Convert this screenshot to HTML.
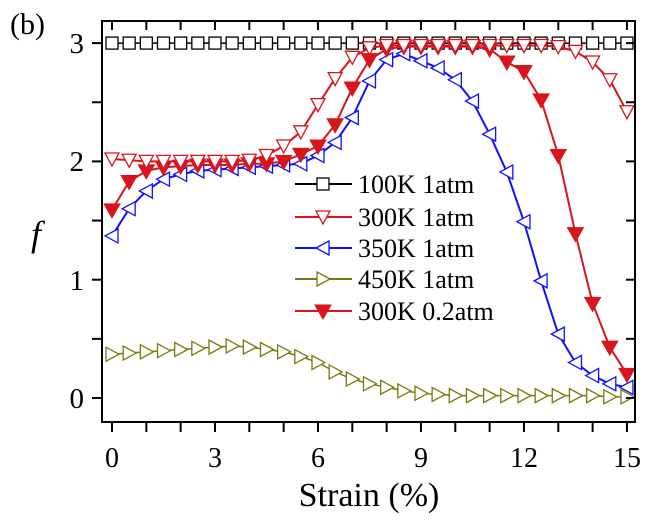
<!DOCTYPE html>
<html><head><meta charset="utf-8"><style>
html,body{margin:0;padding:0;background:#fff;}
svg, svg text{font-family:"Liberation Serif","Times New Roman","DejaVu Serif",serif;}
svg{display:block;}
</style></head><body>
<svg id="s" width="652" height="531" viewBox="0 0 652 531" xmlns="http://www.w3.org/2000/svg" font-family="Liberation Serif, serif">
<rect x="0" y="0" width="652" height="531" fill="#fff"/>
<text x="10" y="34" font-size="30">(b)</text>
<text x="36" y="246" font-size="36" font-style="italic" text-anchor="middle">f</text>
<g font-size="28" text-anchor="middle">
<text x="112" y="467">0</text><text x="215" y="467">3</text><text x="318" y="467">6</text>
<text x="421" y="467">9</text><text x="524" y="467">12</text><text x="627" y="467">15</text>
</g>
<g font-size="29" text-anchor="end">
<text x="84" y="408">0</text><text x="84" y="290">1</text><text x="84" y="171">2</text><text x="84" y="53">3</text>
</g>
<text x="369" y="506" font-size="34" text-anchor="middle">Strain (%)</text>
<g id="plot"></g>
<rect x="102" y="21" width="533" height="401" fill="none" stroke="#000" stroke-width="2"/>
<g id="ticks" stroke="#000" stroke-width="2"></g>
<g id="leg"></g>
</svg>
<script>
var NS="http://www.w3.org/2000/svg";
function X(s){return 112+34.33*s;}function Y(f){return 398-118.3*f;}
function el(p,t,a){var e=document.createElementNS(NS,t);for(var k in a)e.setAttribute(k,a[k]);p.appendChild(e);return e;}
var tk=document.getElementById('ticks');
for(var i=0;i<=15;i++){var x=X(i);el(tk,'line',{x1:x,x2:x,y1:422,y2:432});el(tk,'line',{x1:x,x2:x,y1:21,y2:30});}
for(var j=0;j<=6;j++){var y=Y(j*0.5);el(tk,'line',{x1:92,x2:102,y1:y,y2:y});el(tk,'line',{x1:626,x2:635,y1:y,y2:y});}
var d100=[],d300=[2.02,2.01,2.0,2.0,2.0,2.0,2.0,2.0,2.01,2.05,2.13,2.25,2.48,2.7,2.88,2.96,2.98,2.98,2.98,2.98,2.98,2.98,2.98,2.98,2.98,2.98,2.97,2.93,2.84,2.69,2.42];
for(var i=0;i<31;i++)d100.push(3);
var d02=[1.59,1.83,1.92,1.95,1.96,1.97,1.97,1.97,1.98,1.98,2.0,2.06,2.13,2.31,2.62,2.86,2.95,2.97,2.97,2.97,2.97,2.97,2.95,2.84,2.76,2.52,2.05,1.39,0.8,0.43,0.2];
var d350=[1.37,1.6,1.75,1.85,1.89,1.92,1.93,1.94,1.95,1.96,1.97,1.98,2.05,2.16,2.37,2.68,2.86,2.91,2.85,2.79,2.69,2.51,2.23,1.91,1.49,0.99,0.54,0.3,0.19,0.12,0.09];
var d450=[0.37,0.38,0.39,0.4,0.41,0.42,0.43,0.44,0.43,0.41,0.39,0.35,0.3,0.22,0.16,0.12,0.09,0.06,0.04,0.03,0.02,0.02,0.02,0.02,0.02,0.02,0.02,0.02,0.02,0.01,0.01];
var red="#d8141c",blue="#1010ff",olv="#7a7a10";
function marker(g,t,x,y,c){
 if(t=='sq')el(g,'rect',{x:x-6,y:y-6,width:12,height:12,fill:'#fff',stroke:c,'stroke-width':1.3});
 else if(t=='dn')el(g,'polygon',{points:(x-7)+','+(y-6)+' '+(x+7)+','+(y-6)+' '+x+','+(y+7),fill:'#fff',stroke:c,'stroke-width':1.3});
 else if(t=='dnf')el(g,'polygon',{points:(x-8)+','+(y-6)+' '+(x+8)+','+(y-6)+' '+x+','+(y+8),fill:c,stroke:c,'stroke-width':1});
 else if(t=='lt')el(g,'polygon',{points:(x-7)+','+y+' '+(x+6)+','+(y-7)+' '+(x+6)+','+(y+7),fill:'#fff',stroke:c,'stroke-width':1.3});
 else if(t=='rt')el(g,'polygon',{points:(x+7)+','+y+' '+(x-6)+','+(y-7)+' '+(x-6)+','+(y+7),fill:'#fff',stroke:c,'stroke-width':1.3});
}
var P=document.getElementById('plot');
function series(d,c,t,w){
 var pts=d.map(function(f,i){return X(i*0.5)+','+Y(f);}).join(' ');
 el(P,'polyline',{points:pts,fill:'none',stroke:c,'stroke-width':w,'stroke-linejoin':'round'});
 d.forEach(function(f,i){marker(P,t,X(i*0.5),Y(f),c);});
}
series(d450,olv,'rt',1.5);
series(d100,'#000','sq',1.5);
series(d350,blue,'lt',2);
series(d02,red,'dnf',2);
series(d300,red,'dn',2);
var L=document.getElementById('leg');
var items=[['100K 1atm','#000','sq'],['300K 1atm',red,'dn'],['350K 1atm',blue,'lt'],['450K 1atm',olv,'rt'],['300K 0.2atm',red,'dnf']];
var ys=[184,217,248,279,311];
items.forEach(function(it,k){var y=ys[k];
 el(L,'line',{x1:295,x2:352,y1:y,y2:y,stroke:it[1],'stroke-width':2});
 marker(L,it[2],323,y,it[1]);
 var t=el(L,'text',{x:358,y:y+9,'font-size':26});t.textContent=it[0];});
</script>
</body></html>
